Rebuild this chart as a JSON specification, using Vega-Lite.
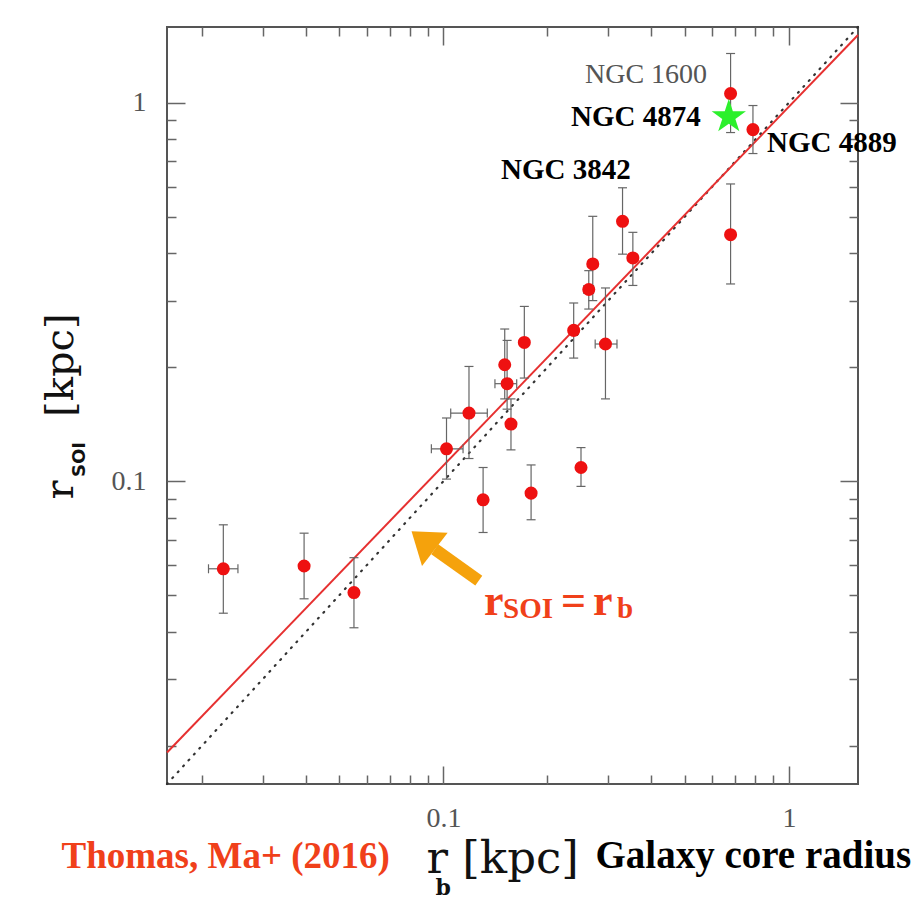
{
  "$schema": "https://vega.github.io/schema/vega-lite/v6.json",
  "width": 691,
  "height": 757,
  "autosize": "none",
  "padding": {"left": 167, "top": 27, "right": 59, "bottom": 131},
  "background": "white",
  "config": {
    "view": {"stroke": "#555", "strokeWidth": 2},
    "axis": {"domain": false, "grid": false, "tickColor": "#666", "tickWidth": 1.5, "labelFont": "Liberation Serif", "labelColor": "#555", "labelFontSize": 28, "labelFlush": false, "titlePadding": 0}
  },
  "datasets": {
    "identity": [{"x": 0.01585, "y": 0.01585}, {"x": 1.585, "y": 1.585}],
    "fit": [{"x": 0.01585, "y": 0.0192}, {"x": 1.585, "y": 1.51}],
    "pts": [
      {"x": 0.02307, "y": 0.0587, "ylo": 0.0448, "yhi": 0.0767, "xlo": 0.0209, "xhi": 0.02543},
      {"x": 0.03952, "y": 0.0597, "ylo": 0.0489, "yhi": 0.0729},
      {"x": 0.0551, "y": 0.0508, "ylo": 0.041, "yhi": 0.0628},
      {"x": 0.1021, "y": 0.1218, "ylo": 0.1013, "yhi": 0.1469, "xlo": 0.0923, "xhi": 0.114},
      {"x": 0.1186, "y": 0.1514, "ylo": 0.1148, "yhi": 0.201, "xlo": 0.105, "xhi": 0.134},
      {"x": 0.1303, "y": 0.0893, "ylo": 0.0732, "yhi": 0.1087},
      {"x": 0.1505, "y": 0.2031, "ylo": 0.165, "yhi": 0.2524},
      {"x": 0.1529, "y": 0.181, "ylo": 0.155, "yhi": 0.2355, "xlo": 0.141, "xhi": 0.163},
      {"x": 0.1569, "y": 0.1416, "ylo": 0.121, "yhi": 0.165},
      {"x": 0.1715, "y": 0.2326, "ylo": 0.1873, "yhi": 0.2896},
      {"x": 0.1794, "y": 0.093, "ylo": 0.0791, "yhi": 0.1104},
      {"x": 0.2383, "y": 0.2503, "ylo": 0.2115, "yhi": 0.2957},
      {"x": 0.2502, "y": 0.1087, "ylo": 0.0969, "yhi": 0.1227},
      {"x": 0.2635, "y": 0.321, "ylo": 0.285, "yhi": 0.36, "xlo": 0.255, "xhi": 0.272},
      {"x": 0.2706, "y": 0.375, "ylo": 0.3, "yhi": 0.501},
      {"x": 0.2945, "y": 0.2304, "ylo": 0.165, "yhi": 0.324, "xlo": 0.275, "xhi": 0.318},
      {"x": 0.33, "y": 0.486, "ylo": 0.398, "yhi": 0.596},
      {"x": 0.3535, "y": 0.389, "ylo": 0.329, "yhi": 0.4545},
      {"x": 0.678, "y": 1.057, "ylo": 0.834, "yhi": 1.349},
      {"x": 0.787, "y": 0.849, "ylo": 0.734, "yhi": 0.983},
      {"x": 0.678, "y": 0.448, "ylo": 0.332, "yhi": 0.61}
    ],
    "star": [{"x": 0.67, "y": 0.918}],
    "labels": [
      {"x": 0.234, "y": 0.918, "label": "NGC 4874"},
      {"x": 0.864, "y": 0.7845, "label": "NGC 4889"},
      {"x": 0.1468, "y": 0.666, "label": "NGC 3842"}
    ],
    "label1600": [{"x": 0.2569, "y": 1.187, "label": "NGC  1600"}],
    "shaft": [{"x": 0.1266, "y": 0.05464}, {"x": 0.0944, "y": 0.0661}],
    "head": [{"x": 0.0874, "y": 0.0698}],
    "annMain": [{"x": 0.1311, "y": 0.04434, "t": "r"}, {"x": 0.219, "y": 0.04434, "t": "="}, {"x": 0.271, "y": 0.04434, "t": "r"}],
    "annSub": [{"x": 0.1488, "y": 0.04354, "t": "SOI"}, {"x": 0.318, "y": 0.04354, "t": "b"}]
  },
  "resolve": {"axis": {"x": "independent", "y": "independent"}},
  "layer": [
    {
      "data": {"name": "identity"},
      "mark": {"type": "line", "stroke": "#333", "strokeWidth": 2.2, "strokeDash": [1, 7], "strokeCap": "round"},
      "encoding": {
        "x": {"field": "x", "type": "quantitative", "scale": {"type": "log", "domain": [0.01585, 1.585], "nice": false},
          "axis": {"orient": "bottom", "values": [0.1, 1], "format": "~g", "tickSize": -18, "labelPadding": 38, "title": "r\u00a0[kpc]", "titleFont": "DejaVu Serif", "titleFontSize": 45, "titleFontWeight": "normal", "titleColor": "#111", "titleX": 259, "titleY": 88, "titleAlign": "left", "titleBaseline": "alphabetic"}},
        "y": {"field": "y", "type": "quantitative", "scale": {"type": "log", "domain": [0.01585, 1.585], "nice": false},
          "axis": {"orient": "left", "values": [0.1, 1], "format": "~g", "tickSize": -18, "labelPadding": 39, "title": "r\u00a0\u00a0\u00a0\u00a0\u00a0[kpc]", "titleFont": "DejaVu Serif", "titleFontSize": 40, "titleFontWeight": "normal", "titleColor": "#111", "titleX": -95, "titleY": 379, "titleAngle": 270, "titleAlign": "center", "titleBaseline": "alphabetic"}}
      }
    },
    {
      "data": {"name": "fit"},
      "mark": {"type": "line", "stroke": "#e63030", "strokeWidth": 2},
      "encoding": {
        "x": {"field": "x", "type": "quantitative", "scale": {"type": "log", "domain": [0.01585, 1.585], "nice": false},
          "axis": {"orient": "bottom", "values": [0.02, 0.03, 0.04, 0.05, 0.06, 0.07, 0.08, 0.09, 0.2, 0.3, 0.4, 0.5, 0.6, 0.7, 0.8, 0.9], "tickSize": -9, "labels": false, "title": "b", "titleFont": "DejaVu Serif", "titleFontSize": 22, "titleFontWeight": "bold", "titleColor": "#111", "titleX": 268, "titleY": 110, "titleAlign": "left", "titleBaseline": "alphabetic"}},
        "y": {"field": "y", "type": "quantitative", "scale": {"type": "log", "domain": [0.01585, 1.585], "nice": false},
          "axis": {"orient": "left", "values": [0.02, 0.03, 0.04, 0.05, 0.06, 0.07, 0.08, 0.09, 0.2, 0.3, 0.4, 0.5, 0.6, 0.7, 0.8, 0.9], "tickSize": -9, "labels": false, "title": "SOI", "titleFont": "DejaVu Sans", "titleFontSize": 18, "titleFontWeight": "bold", "titleColor": "#111", "titleX": -83, "titleY": 432, "titleAngle": 270, "titleAlign": "center", "titleBaseline": "alphabetic"}}
      }
    },
    {
      "data": {"name": "pts"},
      "mark": {"type": "rule", "stroke": "#666", "strokeWidth": 1.2},
      "encoding": {
        "x": {"field": "x", "type": "quantitative", "scale": {"type": "log", "domain": [0.01585, 1.585], "nice": false},
          "axis": {"orient": "top", "values": [0.1, 1], "tickSize": -18, "labels": false, "title": null}},
        "y": {"field": "ylo", "type": "quantitative", "scale": {"type": "log", "domain": [0.01585, 1.585], "nice": false},
          "axis": {"orient": "right", "values": [0.1, 1], "tickSize": -18, "labels": false, "title": null}},
        "y2": {"field": "yhi"}
      }
    },
    {
      "data": {"name": "pts"},
      "transform": [{"filter": "isValid(datum.xlo)"}],
      "mark": {"type": "rule", "stroke": "#666", "strokeWidth": 1.2},
      "encoding": {
        "x": {"field": "xlo", "type": "quantitative", "scale": {"type": "log", "domain": [0.01585, 1.585], "nice": false},
          "axis": {"orient": "top", "values": [0.02, 0.03, 0.04, 0.05, 0.06, 0.07, 0.08, 0.09, 0.2, 0.3, 0.4, 0.5, 0.6, 0.7, 0.8, 0.9], "tickSize": -9, "labels": false, "title": null}},
        "x2": {"field": "xhi"},
        "y": {"field": "y", "type": "quantitative", "scale": {"type": "log", "domain": [0.01585, 1.585], "nice": false},
          "axis": {"orient": "right", "values": [0.02, 0.03, 0.04, 0.05, 0.06, 0.07, 0.08, 0.09, 0.2, 0.3, 0.4, 0.5, 0.6, 0.7, 0.8, 0.9], "tickSize": -9, "labels": false, "title": null}}
      }
    },
    {
      "data": {"name": "pts"},
      "transform": [{"fold": ["ylo", "yhi"], "as": ["k", "v"]}],
      "mark": {"type": "tick", "orient": "horizontal", "color": "#666", "size": 9, "thickness": 1.2, "opacity": 1},
      "encoding": {
        "x": {"field": "x", "type": "quantitative", "scale": {"type": "log", "domain": [0.01585, 1.585], "nice": false},
          "axis": {"orient": "bottom", "ticks": false, "labels": false, "title": "Galaxy core radius", "titleFont": "Liberation Serif", "titleFontSize": 39, "titleFontWeight": "bold", "titleColor": "#000", "titleX": 428, "titleY": 83, "titleAlign": "left", "titleBaseline": "alphabetic"}},
        "y": {"field": "v", "type": "quantitative", "scale": {"type": "log", "domain": [0.01585, 1.585], "nice": false}, "axis": null}
      }
    },
    {
      "data": {"name": "pts"},
      "transform": [{"filter": "isValid(datum.xlo)"}, {"fold": ["xlo", "xhi"], "as": ["k", "v"]}],
      "mark": {"type": "tick", "orient": "vertical", "color": "#666", "size": 9, "thickness": 1.2, "opacity": 1},
      "encoding": {
        "x": {"field": "v", "type": "quantitative", "scale": {"type": "log", "domain": [0.01585, 1.585], "nice": false},
          "axis": {"orient": "bottom", "ticks": false, "labels": false, "title": "Thomas, Ma+ (2016)", "titleFont": "Liberation Serif", "titleFontSize": 37, "titleFontWeight": "bold", "titleColor": "#f0401a", "titleX": -106, "titleY": 83, "titleAlign": "left", "titleBaseline": "alphabetic"}},
        "y": {"field": "y", "type": "quantitative", "scale": {"type": "log", "domain": [0.01585, 1.585], "nice": false}, "axis": null}
      }
    },
    {
      "data": {"name": "pts"},
      "mark": {"type": "circle", "size": 170, "color": "#ee1111", "opacity": 1},
      "encoding": {
        "x": {"field": "x", "type": "quantitative", "scale": {"type": "log", "domain": [0.01585, 1.585], "nice": false}, "axis": null},
        "y": {"field": "y", "type": "quantitative", "scale": {"type": "log", "domain": [0.01585, 1.585], "nice": false}, "axis": null}
      }
    },
    {
      "data": {"name": "star"},
      "mark": {"type": "point", "shape": "M0,-1L0.2245,-0.309L0.951,-0.309L0.363,0.118L0.588,0.809L0,0.382L-0.588,0.809L-0.363,0.118L-0.951,-0.309L-0.2245,-0.309Z", "size": 1300, "filled": true, "color": "#2cf02c", "opacity": 1, "strokeWidth": 0},
      "encoding": {
        "x": {"field": "x", "type": "quantitative", "scale": {"type": "log", "domain": [0.01585, 1.585], "nice": false}, "axis": null},
        "y": {"field": "y", "type": "quantitative", "scale": {"type": "log", "domain": [0.01585, 1.585], "nice": false}, "axis": null}
      }
    },
    {
      "data": {"name": "labels"},
      "mark": {"type": "text", "font": "Liberation Serif", "fontWeight": "bold", "fontSize": 29, "color": "#000", "align": "left", "baseline": "middle"},
      "encoding": {
        "x": {"field": "x", "type": "quantitative", "scale": {"type": "log", "domain": [0.01585, 1.585], "nice": false}, "axis": null},
        "y": {"field": "y", "type": "quantitative", "scale": {"type": "log", "domain": [0.01585, 1.585], "nice": false}, "axis": null},
        "text": {"field": "label"}
      }
    },
    {
      "data": {"name": "label1600"},
      "mark": {"type": "text", "font": "Liberation Serif", "fontSize": 28, "color": "#555", "align": "left", "baseline": "middle"},
      "encoding": {
        "x": {"field": "x", "type": "quantitative", "scale": {"type": "log", "domain": [0.01585, 1.585], "nice": false}, "axis": null},
        "y": {"field": "y", "type": "quantitative", "scale": {"type": "log", "domain": [0.01585, 1.585], "nice": false}, "axis": null},
        "text": {"field": "label"}
      }
    },
    {
      "data": {"name": "shaft"},
      "mark": {"type": "line", "stroke": "#f5a20c", "strokeWidth": 12, "strokeCap": "butt"},
      "encoding": {
        "x": {"field": "x", "type": "quantitative", "scale": {"type": "log", "domain": [0.01585, 1.585], "nice": false}, "axis": null},
        "y": {"field": "y", "type": "quantitative", "scale": {"type": "log", "domain": [0.01585, 1.585], "nice": false}, "axis": null}
      }
    },
    {
      "data": {"name": "head"},
      "mark": {"type": "point", "shape": "M0,-0.7L1,0.7L-1,0.7Z", "size": 1764, "angle": 307.6, "filled": true, "color": "#f5a20c", "opacity": 1, "strokeWidth": 0},
      "encoding": {
        "x": {"field": "x", "type": "quantitative", "scale": {"type": "log", "domain": [0.01585, 1.585], "nice": false}, "axis": null},
        "y": {"field": "y", "type": "quantitative", "scale": {"type": "log", "domain": [0.01585, 1.585], "nice": false}, "axis": null}
      }
    },
    {
      "data": {"name": "annMain"},
      "mark": {"type": "text", "font": "Liberation Serif", "fontWeight": "bold", "fontSize": 44, "color": "#f0401a", "align": "left", "baseline": "alphabetic"},
      "encoding": {
        "x": {"field": "x", "type": "quantitative", "scale": {"type": "log", "domain": [0.01585, 1.585], "nice": false}, "axis": null},
        "y": {"field": "y", "type": "quantitative", "scale": {"type": "log", "domain": [0.01585, 1.585], "nice": false}, "axis": null},
        "text": {"field": "t"}
      }
    },
    {
      "data": {"name": "annSub"},
      "mark": {"type": "text", "font": "Liberation Serif", "fontWeight": "bold", "fontSize": 29, "color": "#f0401a", "align": "left", "baseline": "alphabetic"},
      "encoding": {
        "x": {"field": "x", "type": "quantitative", "scale": {"type": "log", "domain": [0.01585, 1.585], "nice": false}, "axis": null},
        "y": {"field": "y", "type": "quantitative", "scale": {"type": "log", "domain": [0.01585, 1.585], "nice": false}, "axis": null},
        "text": {"field": "t"}
      }
    }
  ]
}
